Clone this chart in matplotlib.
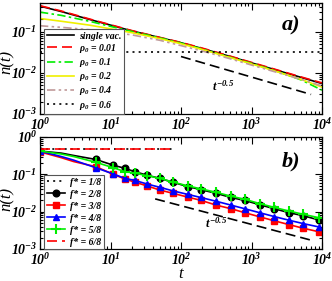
import numpy as np
import matplotlib
matplotlib.use("Agg")
import matplotlib.pyplot as plt
from matplotlib.ticker import LogLocator, NullFormatter, FixedLocator

plt.rcParams['font.family'] = ['Liberation Serif', 'DejaVu Serif']
plt.rcParams['font.weight'] = 'bold'
plt.rcParams['font.style'] = 'italic'
plt.rcParams['mathtext.fontset'] = 'custom'
plt.rcParams['mathtext.rm'] = 'Liberation Serif:bold:italic'
plt.rcParams['mathtext.it'] = 'Liberation Serif:bold:italic'
plt.rcParams['mathtext.bf'] = 'Liberation Serif:bold:italic'

# ---------------- panel a data ----------------
t_a = [1, 2, 5, 10, 20, 50, 100, 200, 500, 1000, 2000, 5000, 10000]
single_vac = [0.42, 0.31, 0.20, 0.145, 0.105, 0.072, 0.054, 0.039, 0.025, 0.0175, 0.0124, 0.0078, 0.0055]
rho_001 = [0.43, 0.32, 0.205, 0.148, 0.107, 0.073, 0.055, 0.040, 0.0255, 0.018, 0.0127, 0.008, 0.0057]
rho_01 = [0.30, 0.25, 0.18, 0.135, 0.102, 0.071, 0.053, 0.038, 0.024, 0.017, 0.0118, 0.0068, 0.0038]
rho_02 = [0.21, 0.18, 0.145, 0.118, 0.095, 0.068, 0.051, 0.037, 0.0235, 0.0165, 0.0115, 0.007, 0.0045]
rho_04 = [0.14, 0.128, 0.112, 0.098, 0.084, 0.062, 0.046, 0.034, 0.022, 0.0155, 0.011, 0.007, 0.0048]
rho_06 = [0.032] * len(t_a)
ref_a_t = [100, 7000]
ref_a_y = [0.025, 0.025 * (7000 / 100) ** -0.5]

# ---------------- panel b data ----------------
t_b = [1, 2, 3, 6.2, 11, 16, 22, 33, 50, 77, 125, 190, 315, 510, 800, 1300, 2100, 3400, 5400, 9000]
f2 = [0.42, 0.37, 0.32, 0.25, 0.175, 0.145, 0.118, 0.095, 0.078, 0.061, 0.047, 0.039, 0.031, 0.024, 0.020, 0.0154, 0.012, 0.0094, 0.0078, 0.006]
f3 = [0.40, 0.28, 0.22, 0.16, 0.10, 0.075, 0.062, 0.049, 0.038, 0.031, 0.0245, 0.0202, 0.015, 0.012, 0.0094, 0.0073, 0.0057, 0.0045, 0.0036, 0.0029]
f4 = [0.42, 0.30, 0.24, 0.15, 0.102, 0.078, 0.069, 0.055, 0.045, 0.036, 0.029, 0.024, 0.019, 0.015, 0.012, 0.0094, 0.0074, 0.0059, 0.0048, 0.0039]
f5 = [0.42, 0.35, 0.30, 0.21, 0.15, 0.118, 0.108, 0.092, 0.078, 0.062, 0.049, 0.041, 0.033, 0.026, 0.0215, 0.0165, 0.013, 0.0104, 0.0085, 0.0069]
t_flat = [1, 80]
f1 = [0.48, 0.48]
f6 = [0.48, 0.48]
ref_b_t = [43, 7400]
ref_b_y = [0.022, 0.022 * (7400 / 43) ** -0.5]

W, H = 332, 281
fig = plt.figure(figsize=(W / 100, H / 100), dpi=100)
ax1 = fig.add_axes([40 / W, 1 - 114 / H, 282 / W, 111 / H])
ax2 = fig.add_axes([40 / W, 1 - 249 / H, 282 / W, 112 / H])

lw = 1.2
ax1.plot(t_a, single_vac, color='black', lw=lw, label='single vac.')
ax1.plot(t_a, rho_001, color='red', lw=lw, dashes=(6, 3), label=r'$\rho_0$ = 0.01')
ax1.plot(t_a, rho_01, color='#00ee00', lw=lw, dashes=(5, 2, 1.5, 2), label=r'$\rho_0$ = 0.1')
ax1.plot(t_a, rho_02, color='#f0f000', lw=lw, label=r'$\rho_0$ = 0.2')
ax1.plot(t_a, rho_04, color='#c09a9a', lw=lw, dashes=(5, 2, 1.5, 2, 1.5, 2), label=r'$\rho_0$ = 0.4')
ax1.plot(t_a, rho_06, color='black', lw=lw, dashes=(1.2, 2.5), label=r'$\rho_0$ = 0.6')
ax1.plot(ref_a_t, ref_a_y, color='black', lw=lw, dashes=(6, 3))
ax1.text(400, 10 ** -2.33, r'$t^{-0.5}$', fontsize=9, ha='center', va='center')
ax1.text(0.89, 0.8, 'a)', transform=ax1.transAxes, fontsize=16, ha='center', va='center')
ax1.set_ylim(1e-3, 0.5)

ms = 4.8
mk_idx = [0] + list(range(3, len(t_b)))
ax2.plot(t_flat, f1, color='black', lw=lw, dashes=(1.2, 2.5), label='f* = 1/8')
ax2.plot(t_b, f2, color='black', lw=lw, marker='o', ms=ms, markevery=mk_idx, label='f* = 2/8')
ax2.plot(t_b, f3, color='red', lw=lw, marker='s', ms=ms, markevery=mk_idx, label='f* = 3/8')
ax2.plot(t_b, f4, color='blue', lw=lw, marker='^', ms=ms, markevery=mk_idx, label='f* = 4/8')
ax2.plot(t_b, f5, color='#00ee00', lw=lw, marker='+', ms=6.5, mew=1.5, markevery=mk_idx, label='f* = 5/8')
ax2.plot(t_flat, f6, color='red', lw=lw, dashes=(6, 3), label='f* = 6/8')
ax2.plot(ref_b_t, ref_b_y, color='black', lw=lw, dashes=(6, 3))
ax2.text(316, 10 ** -2.3, r'$t^{-0.5}$', fontsize=9, ha='center', va='center')
ax2.text(0.89, 0.78, 'b)', transform=ax2.transAxes, fontsize=16, ha='center', va='center')
ax2.set_ylim(1e-3, 1)
ax2.set_xlabel('t', fontsize=12, labelpad=-1)

for ax, hl, yc, ls in ((ax1, 2.8, 0.47, 0.12), (ax2, 1.9, 0.45, 0.3)):
    ax.set_xscale('log')
    ax.set_yscale('log')
    ax.set_xlim(1, 1e4)
    ax.xaxis.set_major_locator(FixedLocator([1, 10, 100, 1000, 10000]))
    ax.xaxis.set_minor_locator(LogLocator(base=10, subs=np.arange(2, 10), numticks=20))
    ax.xaxis.set_minor_formatter(NullFormatter())
    ax.yaxis.set_major_locator(FixedLocator([1e-3, 1e-2, 1e-1, 1]))
    ax.yaxis.set_minor_locator(LogLocator(base=10, subs=np.arange(2, 10), numticks=20))
    ax.yaxis.set_minor_formatter(NullFormatter())
    ax.set_xticklabels([r'$10^{0}$', r'$10^{1}$', r'$10^{2}$', r'$10^{3}$', r'$10^{4}$'])
    ax.set_yticklabels([r'$10^{-3}$', r'$10^{-2}$', r'$10^{-1}$', r'$10^{0}$'])
    ax.tick_params(which='both', direction='in', top=True, right=True, labelsize=10, width=0.8)
    ax.tick_params(which='major', length=5, pad=2)
    ax.tick_params(which='minor', length=2.5)
    ax.set_ylabel('n(t)', fontsize=12)
    ax.yaxis.set_label_coords(-0.088, yc)
    for s in ax.spines.values():
        s.set_linewidth(0.9)
    leg = ax.legend(loc='lower left', fontsize=7, handlelength=hl, labelspacing=ls,
                    borderpad=0.25, handletextpad=0.5, borderaxespad=0.0, fancybox=False,
                    framealpha=1, edgecolor='#555555', bbox_to_anchor=(0.015, 0.0))
    leg.get_frame().set_linewidth(0.8)

fig.savefig('out.png', dpi=100)
